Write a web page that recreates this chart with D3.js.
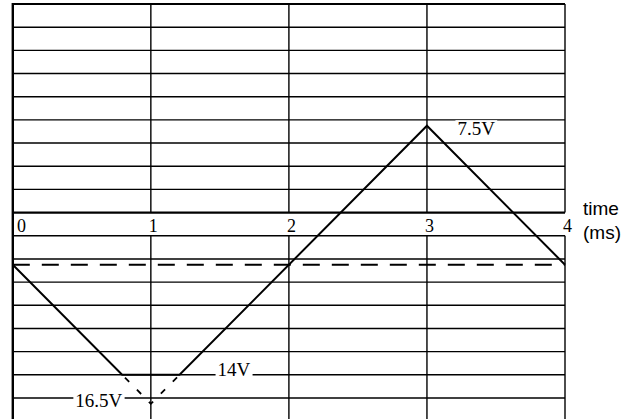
<!DOCTYPE html>
<html>
<head>
<meta charset="utf-8">
<script src="https://cdn.jsdelivr.net/npm/d3@7"></script>
<style>
  html, body { margin: 0; padding: 0; background: #fff; }
  svg { display: block; }
</style>
</head>
<body>
<svg id="chart" width="639" height="419"></svg>
<script>
// ---- data ----
const timeTicks = [0, 1, 2, 3, 4];                 // ms
const tickLabels = ["0", "1", "2", "3", "4"];
const voltGrid = d3.range(-18, 18.01, 2);          // V grid lines
const waveT = [0, 0.792, 1.208, 3, 4];             // clipped waveform, ms
const waveV = [-4.5, -14, -14, 7.5, -4.5];         // V
const unclipT = [0.792, 1, 1.208];                 // unclipped (dashed) part
const unclipV = [-14, -16.5, -14];
const dcLevel = -4.5;                              // dashed reference level
const annText = ["7.5V", "14V", "16.5V"];
const axisTitle = ["time", "(ms)"];

// ---- scales ----
const svg = d3.select("#chart");
const x = d3.scaleLinear().domain([0, 4]).range([12.8, 565]);
const y = d3.scaleLinear().domain([-16, 18]).range([398, 4]);
const yBottom = y(-18);

const serif = "'Liberation Serif', 'Times New Roman', serif";
const sans = "'Liberation Sans', Arial, sans-serif";

// ---- horizontal grid ----
svg.append("g").selectAll("line").data(voltGrid.filter(v => v !== 0)).join("line")
  .attr("x1", x(0)).attr("x2", x(4))
  .attr("y1", d => y(d)).attr("y2", d => y(d))
  .attr("stroke", "#000").attr("stroke-width", d => d === 18 ? 1.8 : 1.4);

// zero axis
svg.append("line")
  .attr("x1", x(0)).attr("x2", x(4)).attr("y1", y(0)).attr("y2", y(0))
  .attr("stroke", "#000").attr("stroke-width", 2.2);

// ---- vertical grid (broken in the label row) ----
const vg = svg.append("g");
timeTicks.forEach(t => {
  if (t === 0) {
    vg.append("line").attr("x1", x(t)).attr("x2", x(t))
      .attr("y1", y(18) - 1).attr("y2", yBottom)
      .attr("stroke", "#000").attr("stroke-width", 2.4);
  } else {
    vg.append("line").attr("x1", x(t)).attr("x2", x(t))
      .attr("y1", y(18)).attr("y2", y(0))
      .attr("stroke", "#000").attr("stroke-width", 1.4);
    vg.append("line").attr("x1", x(t)).attr("x2", x(t))
      .attr("y1", y(-2)).attr("y2", yBottom)
      .attr("stroke", "#000").attr("stroke-width", 1.4);
  }
});

// ---- tick labels ----
svg.append("g").selectAll("text").data(timeTicks).join("text")
  .attr("x", (d, i) => i === 0 ? x(d) + 8.7 : x(d) + 2.5)
  .attr("y", y(0) + 19)
  .attr("text-anchor", "middle")
  .attr("font-family", serif).attr("font-size", 18)
  .text((d, i) => tickLabels[i]);

// axis title
svg.append("g").selectAll("text").data(axisTitle).join("text")
  .attr("x", x(4) + 18)
  .attr("y", (d, i) => y(0) + 2.5 + i * 24)
  .attr("font-family", sans).attr("font-size", 19)
  .text(d => d);

// ---- annotations with white boxes ----
const annPos = [
  { x: x(3) + 30.5, y: y(7.5) + 9.5, anchor: "start" },
  { x: x(1.208) + 38, y: y(-14) + 1, anchor: "start" },
  { x: x(1) - 28.5, y: y(-16) + 8.5, anchor: "end" }
];
const annG = svg.append("g");
annText.forEach((s, i) => {
  const p = annPos[i];
  const tx = annG.append("text")
    .attr("x", p.x).attr("y", p.y)
    .attr("text-anchor", p.anchor)
    .attr("font-family", serif).attr("font-size", 19)
    .text(s);
  const b = tx.node().getBBox();
  annG.insert("rect", "text")
    .attr("x", b.x - 2).attr("y", b.y + 2)
    .attr("width", b.width + 4).attr("height", b.height - 3)
    .attr("fill", "#fff");
});

// ---- dashed DC level ----
svg.append("line")
  .attr("x1", x(0)).attr("x2", x(4)).attr("y1", y(dcLevel)).attr("y2", y(dcLevel))
  .attr("stroke", "#000").attr("stroke-width", 2)
  .attr("stroke-dasharray", "17,12");

// ---- waveform ----
const line = d3.line().x(d => x(d[0])).y(d => y(d[1]));
svg.append("path")
  .datum(waveT.map((t, i) => [t, waveV[i]]))
  .attr("d", line)
  .attr("fill", "none").attr("stroke", "#000").attr("stroke-width", 2)
  .attr("stroke-linejoin", "miter");

svg.append("path")
  .datum(unclipT.map((t, i) => [t, unclipV[i]]))
  .attr("d", line)
  .attr("fill", "none").attr("stroke", "#000").attr("stroke-width", 1.8)
  .attr("stroke-dasharray", "0,4,6,7");
</script>
</body>
</html>
